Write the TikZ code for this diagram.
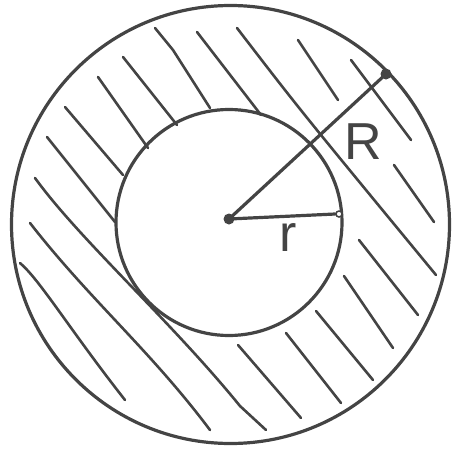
\documentclass[tikz,border=0pt]{standalone}
\usepackage{fontspec}
\newfontfamily\hand{Liberation Sans}
\definecolor{inkc}{RGB}{68,68,68}
\begin{document}
\begin{tikzpicture}[x=1pt,y=-1pt,
  ink/.style={draw=inkc, line width=3.2pt, line cap=round, line join=round},
  hatch/.style={draw=inkc, line width=2.6pt, line cap=round, line join=round},
  dot/.style={circle, fill=inkc, inner sep=0pt, minimum size=11pt},
  smalldot/.style={circle, draw=inkc, fill=white, line width=1.5pt, inner sep=0pt, minimum size=6pt},
  lbl/.style={text=inkc, font=\hand\fontsize{52}{52}\selectfont, inner sep=0pt}]
\useasboundingbox (0,0) rectangle (461,453);
% circles
\draw[ink] (230.5,224.5) circle [radius=219pt];
\draw[ink] (229,222.5) circle [radius=113pt];
% hatching
\draw[hatch] (155,28) -- (173,50) -- (210,108);
\draw[hatch] (197,32) -- (261,115);
\draw[hatch] (237,28) .. controls (300,110) .. (436,275);
\draw[hatch] (298,40) -- (338,100);
\draw[hatch] (351,60) -- (411,140);
\draw[hatch] (394,165) -- (434,222);
\draw[hatch] (359,240) -- (418,315);
\draw[hatch] (344,276) -- (393,348);
\draw[hatch] (316,311) -- (373,380);
\draw[hatch] (286,333) -- (341,403);
\draw[hatch] (238,345) -- (301,418);
\draw[hatch] (123,57) -- (177,125);
\draw[hatch] (98,77) -- (148,148);
\draw[hatch] (65,107) -- (123,175);
\draw[hatch] (47,137) -- (115,222);
\draw[hatch] (35,178) .. controls (80,240) and (170,320) .. (240,406) -- (266,430);
\draw[hatch] (30,223) .. controls (90,300) and (150,350) .. (210,430);
\draw[hatch] (20,263) .. controls (40,280) and (70,330) .. (125,400);
% radii
\node[dot] (O) at (229,219) {};
\node[dot] (P) at (386,74) {};
\node[smalldot] (Q) at (339,214) {};
\draw[ink] (O.center) -- (P.center);
\draw[ink] (O.center) -- (Q.west);
% labels
\node[lbl] (Rl) at (363,142) {R};
\node[lbl] (rl) at (288,238) {r};
\end{tikzpicture}
\end{document}
